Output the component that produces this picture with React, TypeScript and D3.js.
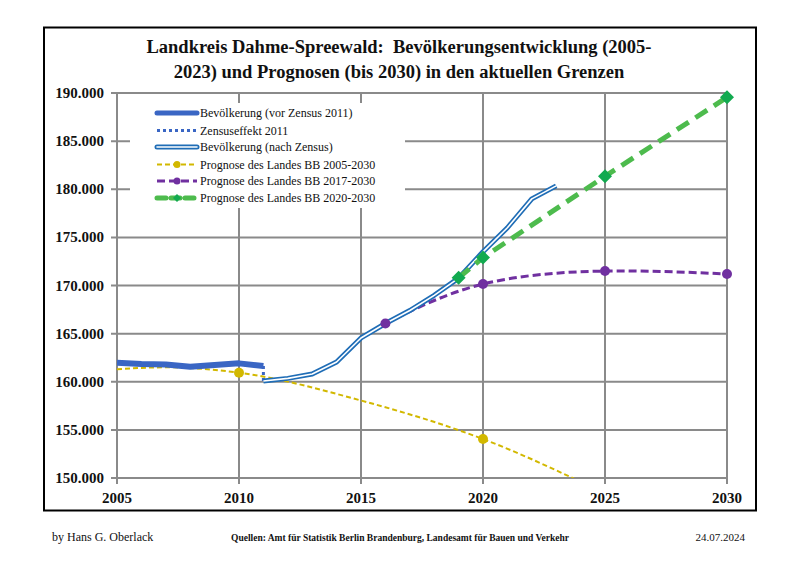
import React from "react";
import * as d3 from "d3";

const yearsBefore = [2005, 2006, 2007, 2008, 2009, 2010, 2011];
const popBefore = [161980, 161850, 161800, 161550, 161750, 161910, 161640];

const censusYears = [2011, 2011];
const censusValues = [161640, 160080];

const yearsAfter = [2011, 2012, 2013, 2014, 2015, 2016, 2017, 2018, 2019, 2020, 2021, 2022, 2023];
const popAfter = [160080, 160350, 160800, 162050, 164550, 166050, 167400, 168980, 170770, 173500, 176000, 179000, 180350];

const prog05Years = [2005, 2007, 2010, 2015, 2020, 2025, 2030];
const prog05Values = [161300, 161500, 160940, 158050, 154050, 148400, 142000];
const prog05MarkerYears = [2010, 2020];

const prog17Years = [2016, 2020, 2025, 2030];
const prog17Values = [166050, 170150, 171500, 171200];

const prog20Years = [2019, 2020, 2025, 2030];
const prog20Values = [170800, 172900, 181350, 189550];

const xTicks = [2005, 2010, 2015, 2020, 2025, 2030];
const yTicks = [150000, 155000, 160000, 165000, 170000, 175000, 180000, 185000, 190000];

const legendLabels = [
  "Bevölkerung (vor Zensus 2011)",
  "Zensuseffekt 2011",
  "Bevölkerung (nach Zensus)",
  "Prognose des Landes BB 2005-2030",
  "Prognose des Landes BB 2017-2030",
  "Prognose des Landes BB 2020-2030",
];

const titleLines = [
  "Landkreis Dahme-Spreewald:\u00A0 Bevölkerungsentwicklung (2005-",
  "2023) und Prognosen (bis 2030) in den aktuellen Grenzen",
];

const SERIF = "'Liberation Serif', 'DejaVu Serif', serif";

const C_BLUE = "#3A66C4";
const C_BLUE2 = "#1F6DB6";
const C_YEL = "#D2B800";
const C_PUR = "#7030A0";
const C_GRN = "#4DBB4D";
const C_GRN_M = "#12AA50";
const C_GRID = "#8A8A8A";

export default function App() {
  const x = d3.scaleLinear().domain([2005, 2030]).range([117, 727]);
  const y = d3.scaleLinear().domain([150000, 190000]).range([478, 93]);
  const fmt = (v: number) => d3.format(",")(v).replace(/,/g, ".");

  const pairs = (xs: number[], vs: number[]) => xs.map((d, i) => [d, vs[i]] as [number, number]);
  const lineLin = d3.line<[number, number]>().x((d) => x(d[0])).y((d) => y(d[1]));
  const lineMono = d3.line<[number, number]>().x((d) => x(d[0])).y((d) => y(d[1])).curve(d3.curveMonotoneX);
  const lineNat = d3.line<[number, number]>().x((d) => x(d[0])).y((d) => y(d[1])).curve(d3.curveNatural);

  const before = pairs(yearsBefore, popBefore);
  const census = pairs(censusYears, censusValues);
  const after = pairs(yearsAfter, popAfter);
  const p05 = pairs(prog05Years, prog05Values);
  const p17 = pairs(prog17Years, prog17Values);
  const p20 = pairs(prog20Years, prog20Values);

  const [x0, x1] = x.range();
  const [yb, yt] = y.range();

  const legY = [113, 130.5, 147, 164.5, 181, 198];
  const lx0 = 157;
  const lx1 = 197;
  const lm = (lx0 + lx1) / 2;

  const diamond = (cx: number, cy: number, r: number) =>
    `M${cx},${cy - r}L${cx + r},${cy}L${cx},${cy + r}L${cx - r},${cy}Z`;

  return (
    <svg width={800} height={566} style={{ display: "block", position: "absolute", left: 0, top: 0 }}>
      <rect x={0} y={0} width={800} height={566} fill="#fff" />
      <rect x={44} y={27.5} width={712} height={483} fill="#fff" stroke="#000" strokeWidth={2} />
      {titleLines.map((t, i) => (
        <text key={i} x={399} y={53 + i * 24.5} textAnchor="middle" fontFamily={SERIF} fontWeight="bold" fontSize={18.5} fill="#111">
          {t}
        </text>
      ))}
      <defs>
        <clipPath id="plotclip">
          <rect x={x0} y={yt - 10} width={x1 - x0 + 10} height={yb - yt + 10} />
        </clipPath>
      </defs>
      {yTicks.map((t) => (
        <line key={"gy" + t} x1={x0 - 6} x2={x1} y1={y(t)} y2={y(t)} stroke={C_GRID} strokeWidth={2} />
      ))}
      {xTicks.map((t) => (
        <line key={"gx" + t} x1={x(t)} x2={x(t)} y1={yt} y2={yb + 6} stroke={C_GRID} strokeWidth={2} />
      ))}
      <rect x={130} y={103} width={275} height={105} fill="#fff" />
      {yTicks.map((t) => (
        <text key={"ly" + t} x={104} y={y(t) + 5} textAnchor="end" fontFamily={SERIF} fontWeight="bold" fontSize={15} fill="#111">
          {fmt(t)}
        </text>
      ))}
      {xTicks.map((t) => (
        <text key={"lx" + t} x={x(t)} y={503} textAnchor="middle" fontFamily={SERIF} fontWeight="bold" fontSize={15} fill="#111">
          {t}
        </text>
      ))}
      <g clipPath="url(#plotclip)">
        <path d={lineMono(p05) || ""} fill="none" stroke={C_YEL} strokeWidth={2} strokeDasharray="5,3" />
        <path d={lineNat(p17) || ""} fill="none" stroke={C_PUR} strokeWidth={3} strokeDasharray="8,4" />
        <path d={lineLin(before) || ""} fill="none" stroke={C_BLUE} strokeWidth={6} strokeLinejoin="round" />
        <path d={lineLin(census) || ""} fill="none" stroke={C_BLUE} strokeWidth={3} strokeDasharray="3,3" />
        <path d={lineLin(after) || ""} fill="none" stroke={C_BLUE2} strokeWidth={5} strokeLinejoin="round" />
        <path d={lineLin(after) || ""} fill="none" stroke="#fff" strokeWidth={1.6} strokeLinejoin="round" />
        <path d={lineLin(p20) || ""} fill="none" stroke={C_GRN} strokeWidth={5} strokeDasharray="14,8" />
      </g>
      {prog05MarkerYears.map((yr) => (
        <circle key={"m05" + yr} cx={x(yr)} cy={y(prog05Values[prog05Years.indexOf(yr)])} r={5} fill={C_YEL} />
      ))}
      {p17.map((d) => (
        <circle key={"m17" + d[0]} cx={x(d[0])} cy={y(d[1])} r={5} fill={C_PUR} />
      ))}
      {p20.map((d) => (
        <path key={"m20" + d[0]} d={diamond(x(d[0]), y(d[1]), 7)} fill={C_GRN_M} />
      ))}
      <line x1={lx0} x2={lx1} y1={legY[0]} y2={legY[0]} stroke={C_BLUE} strokeWidth={5} strokeLinecap="round" />
      <line x1={lx0} x2={lx1} y1={legY[1]} y2={legY[1]} stroke={C_BLUE} strokeWidth={3} strokeDasharray="3,3" />
      <line x1={lx0} x2={lx1} y1={legY[2]} y2={legY[2]} stroke={C_BLUE2} strokeWidth={5} strokeLinecap="round" />
      <line x1={lx0} x2={lx1} y1={legY[2]} y2={legY[2]} stroke="#fff" strokeWidth={1.6} strokeLinecap="round" />
      <line x1={lx0} x2={lx1} y1={legY[3]} y2={legY[3]} stroke={C_YEL} strokeWidth={2} strokeDasharray="5,3" />
      <circle cx={lm} cy={legY[3]} r={3.5} fill={C_YEL} />
      <line x1={lx0} x2={lx1} y1={legY[4]} y2={legY[4]} stroke={C_PUR} strokeWidth={3} strokeDasharray="8,4" />
      <circle cx={lm} cy={legY[4]} r={3.5} fill={C_PUR} />
      <line x1={lx0} x2={lx1} y1={legY[5]} y2={legY[5]} stroke={C_GRN} strokeWidth={5} strokeDasharray="9,5" strokeLinecap="round" />
      <path d={diamond(lm, legY[5], 4)} fill={C_GRN_M} />
      {legendLabels.map((l, i) => (
        <text key={"lg" + i} x={200} y={legY[i] + 4} fontFamily={SERIF} fontSize={12} fill="#111">
          {l}
        </text>
      ))}
      <text x={52} y={541} fontFamily={SERIF} fontSize={12} fill="#111">by Hans G. Oberlack</text>
      <text x={231} y={541} fontFamily={SERIF} fontWeight="bold" fontSize={11} fill="#111" textLength={338} lengthAdjust="spacingAndGlyphs">
        Quellen: Amt für Statistik Berlin Brandenburg, Landesamt für Bauen und Verkehr
      </text>
      <text x={745} y={541} textAnchor="end" fontFamily={SERIF} fontSize={11} fill="#111">24.07.2024</text>
    </svg>
  );
}
